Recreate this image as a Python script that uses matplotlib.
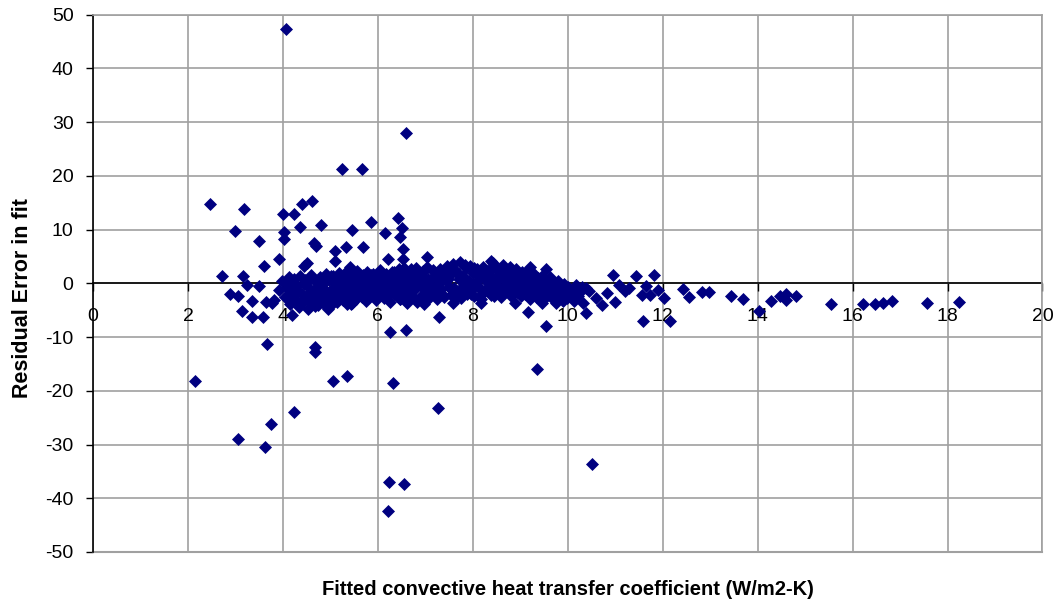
import numpy as np
import matplotlib
matplotlib.use("Agg")
import matplotlib.pyplot as plt

plt.rcParams["font.family"] = ["Liberation Sans", "DejaVu Sans"]
plt.rcParams["axes.unicode_minus"] = False

# dense band of residuals (fitted h, residual)
band_x = [3.92, 3.98, 4.05, 4.08, 4.12, 4.15, 4.18, 4.22, 4.26, 4.30, 4.33, 4.36, 4.40, 4.44, 4.47, 4.50,
          4.53, 4.56, 4.60, 4.63, 4.66, 4.70, 4.73, 4.76, 4.79, 4.82, 4.85, 4.88, 4.91, 4.94, 4.97, 5.00,
          5.03, 5.06, 5.09, 5.12, 5.15, 5.18, 5.21, 5.24, 5.27, 5.30, 5.33, 5.36, 5.39, 5.42, 5.45, 5.48,
          5.51, 5.54, 5.57, 5.60, 5.63, 5.66, 5.69, 5.72, 5.75, 5.78, 5.81, 5.84, 5.87, 5.90, 5.93, 5.96,
          5.99, 6.02, 6.05, 6.08, 6.11, 6.14, 6.17, 6.20, 6.23, 6.26, 6.29, 6.32, 6.35, 6.38, 6.41, 6.44,
          6.47, 6.50, 6.53, 6.56, 6.59, 6.62, 6.65, 6.68, 6.71, 6.74, 6.77, 6.80, 6.83, 6.86, 6.89, 6.92,
          6.95, 6.98, 7.01, 7.04, 7.07, 7.10, 7.13, 7.16, 7.19, 7.22, 7.25, 7.28, 7.31, 7.34, 7.37, 7.40,
          7.43, 7.46, 7.49, 7.52, 7.55, 7.58, 7.61, 7.64, 7.67, 7.70, 7.73, 7.76, 7.79, 7.82, 7.85, 7.88,
          7.91, 7.94, 7.97, 8.00, 8.03, 8.06, 8.09, 8.12, 8.15, 8.18, 8.21, 8.24, 8.27, 8.30, 8.33, 8.36,
          8.39, 8.42, 8.45, 8.48, 8.51, 8.54, 8.57, 8.60, 8.63, 8.66, 8.69, 8.72, 8.75, 8.78, 8.81, 8.84,
          8.87, 8.90, 8.93, 8.96, 8.99, 9.02, 9.05, 9.08, 9.11, 9.14, 9.17, 9.20, 9.23, 9.26, 9.29, 9.32,
          9.35, 9.38, 9.41, 9.44, 9.47, 9.50, 9.53, 9.56, 9.59, 9.62, 9.65, 9.68, 9.71, 9.74, 9.77, 9.80,
          9.83, 9.86, 9.89, 9.92, 9.95, 9.98, 10.01, 10.05, 10.09, 10.13, 10.18, 10.22, 10.27, 10.33, 10.38]
band_y = [-1.2, 0.4, -2.6, -0.8, 1.1, -3.9, -1.7, 0.2, -2.9, -0.5, -4.4, 1.3, -1.9, -3.3, 0.6, -2.4,
          -4.7, -0.9, 1.6, -3.1, -1.6, 0.3, -4.1, -2.2, 1.1, -0.4, -3.6, -1.3, 1.8, -2.7, 0.7, -4.3,
          -1.0, 1.4, -2.1, -0.2, -3.4, 2.0, -1.5, 0.5, -2.9, 1.2, -0.7, -3.8, 0.1, 1.9, -2.3, -1.1,
          0.9, -3.0, 2.3, -1.7, 0.0, -2.6, 1.5, -0.6, -3.3, 2.1, -1.3, 0.6, -2.2, 1.7, -0.3, -3.1,
          1.0, -1.8, 2.4, -0.9, 0.4, -2.7, 1.8, -1.4, 0.8, -3.4, 2.2, -0.1, -2.0, 1.3, -1.0, 2.6,
          -2.9, 0.5, -1.6, 2.8, -3.2, 1.1, -0.7, 2.0, -2.4, 0.2, -1.2, 2.9, -3.5, 1.5, -0.4, -2.1,
          2.3, 0.9, -1.5, 3.0, -2.8, 0.6, -0.8, 2.5, -1.9, 1.3, -3.0, 0.0, 2.7, -1.1, 1.8, -2.5,
          0.4, 3.2, -0.6, 1.6, -2.2, 3.6, -0.9, 2.2, -1.6, 0.8, 3.9, -2.7, 1.4, -0.3, 2.9, -1.9,
          0.5, 3.3, -1.2, 1.9, -2.4, 0.2, 2.6, -0.7, 1.1, -3.0, 3.0, -1.5, 0.7, 2.3, -0.9, 1.5,
          -2.1, 3.7, 0.3, -1.3, 2.4, -0.5, 1.2, -2.6, 3.4, 0.6, -1.4, 2.0, -0.2, 3.1, -2.0, 1.0,
          -0.8, 2.6, -1.7, 0.4, 1.6, -2.4, 0.9, -0.6, 1.9, -1.5, 0.2, -2.9, 1.3, -0.9, 0.6, -2.0,
          -0.3, 1.0, -1.6, -3.1, 0.3, -1.1, 0.7, -2.3, -0.4, 1.2, -1.8, -3.0, 0.1, -1.3, -2.6, 0.5,
          -0.9, -2.1, -3.3, -0.2, -1.6, -2.8, -0.7, -2.0, -1.2, -3.2, -0.4, -2.4, -1.5, -3.6, -0.8]

# more band points (fills the solid core)
core_x = [4.10, 4.16, 4.24, 4.31, 4.38, 4.45, 4.52, 4.58, 4.64, 4.71,
          4.78, 4.84, 4.90, 4.96, 5.02, 5.08, 5.14, 5.20, 5.26, 5.32,
          5.38, 5.44, 5.50, 5.56, 5.62, 5.68, 5.74, 5.80, 5.86, 5.92,
          5.98, 6.04, 6.10, 6.16, 6.22, 6.28, 6.34, 6.40, 6.46, 6.52,
          6.58, 6.64, 6.70, 6.76, 6.82, 6.88, 6.94, 7.00, 7.06, 7.12,
          7.18, 7.24, 7.30, 7.36, 7.42, 7.48, 7.54, 7.60, 7.66, 7.72,
          7.78, 7.84, 7.90, 7.96, 8.02, 8.08, 8.14, 8.20, 8.26, 8.32,
          8.38, 8.44, 8.50, 8.56, 8.62, 8.68, 8.74, 8.80, 8.86, 8.92,
          8.98, 9.04, 9.10, 9.16, 9.22, 9.28, 9.34, 9.40, 9.46, 9.52,
          9.58, 9.64, 9.70, 9.76, 9.82, 9.88]
core_y = [-0.2, -3.0, 0.9, -1.4, -3.7, -0.1, -2.0, 0.8, -3.9, -0.6,
          -2.6, 0.4, -1.8, -3.2, 1.3, -2.5, 0.8, -0.6, -3.1, 2.2,
          -1.9, 0.9, -2.8, -0.9, 1.2, -2.0, 0.3, -2.8, 1.6, -1.1,
          -2.4, 0.7, -0.4, 1.5, -2.2, -0.9, 2.1, -0.5, -3.0, 1.7,
          0.0, -2.1, 2.6, -0.3, 1.0, -2.7, 1.9, -0.7, 0.8, -2.0,
          2.2, -0.4, 1.1, -2.0, 2.0, 0.9, -1.1, 2.7, -2.6, 1.8,
          -0.8, 3.4, 0.1, -2.0, 2.9, -0.4, 1.6, -1.9, 2.0, 0.0,
          2.8, -2.4, 1.0, -1.8, 2.9, -0.9, 0.5, -2.3, 1.9, -0.2,
          -1.2, 2.2, -1.9, 0.7, -0.7, 1.8, -2.5, -1.0, 1.4, -2.0,
          -0.2, -2.4, -0.6, -2.1, -1.0, -2.5]

# scattered points above the band
upper_x = [4.06, 6.60, 5.25, 5.66, 2.47, 3.18, 4.00, 4.23, 4.40, 4.61, 5.86, 6.43, 6.50, 6.46,
           6.52, 6.54, 7.04, 3.00, 3.49, 3.61, 3.92, 4.02, 4.03, 4.36, 4.80, 4.65, 4.70, 4.44,
           4.51, 5.46, 6.15, 5.10, 5.32, 5.69, 5.10, 5.41, 6.22, 2.71, 3.17, 8.38, 9.21, 9.55]
upper_y = [47.3, 27.9, 21.3, 21.3, 14.8, 13.8, 13.0, 13.0, 14.8, 15.4, 11.5, 12.1, 10.3, 8.7,
           6.4, 4.6, 4.9, 9.8, 7.9, 3.3, 4.6, 9.5, 8.2, 10.5, 10.8, 7.5, 6.9, 3.3,
           3.8, 10.0, 9.3, 6.1, 6.7, 6.7, 4.2, 3.1, 4.5, 1.4, 1.4, 4.2, 3.0, 2.7]

# scattered points below the band
lower_x = [4.19, 4.67, 4.67, 6.26, 6.60, 7.28, 9.55, 9.17, 2.14, 3.05, 3.62, 3.75, 4.24, 3.67,
           5.05, 5.34, 6.32, 7.27, 6.23, 6.56, 6.21, 9.36, 10.52, 3.14, 3.35, 3.58, 3.35, 2.89,
           3.05, 3.25, 3.49, 3.65, 3.81, 3.77, 4.96, 4.68, 5.44, 6.58, 6.98, 7.58, 8.18, 8.88,
           9.45, 9.76, 5.46, 6.61]
lower_y = [-5.9, -11.9, -12.7, -9.0, -8.7, -6.2, -8.0, -5.4, -18.2, -29.0, -30.4, -26.2, -23.9, -11.3,
           -18.2, -17.3, -18.5, -23.2, -37.0, -37.3, -42.4, -15.9, -33.6, -5.1, -6.2, -6.2, -3.3, -2.0,
           -2.3, -0.3, -0.5, -3.5, -3.1, -3.6, -4.8, -4.3, -3.8, -3.1, -3.8, -3.7, -3.7, -3.6,
           -3.7, -3.7, -3.7, -3.7]

# sparse tail at high coefficients
tail_x = [10.39, 10.72, 11.00, 11.58, 12.16, 10.96, 11.44, 11.82, 12.42, 12.56, 12.82, 12.98, 13.43,
          13.70, 14.02, 14.28, 14.47, 14.59, 14.59, 14.80, 15.55, 16.21, 16.47, 16.65, 16.83, 17.56,
          18.25, 12.02, 11.30, 11.56, 11.74, 11.91, 11.07, 10.83, 10.60, 10.44, 10.30, 10.16, 11.20, 11.65]
tail_y = [-5.6, -4.0, -3.5, -7.0, -7.1, 1.6, 1.3, 1.5, -1.1, -2.6, -1.7, -1.7, -2.3,
          -2.9, -5.2, -3.3, -2.3, -2.0, -3.1, -2.3, -3.8, -3.8, -3.8, -3.6, -3.3, -3.7,
          -3.4, -2.7, -0.9, -2.1, -2.1, -1.2, -0.3, -1.8, -2.8, -1.5, -0.6, -2.5, -1.4, -0.5]

x_ticks = list(range(0, 21, 2))
y_ticks = list(range(-50, 51, 10))

fig = plt.figure(figsize=(10.58, 6.03), dpi=100)
ax = fig.add_axes([0.0879, 0.0846, 0.8974, 0.891])

xs = np.concatenate([band_x, core_x, upper_x, lower_x, tail_x])
ys = np.concatenate([band_y, core_y, upper_y, lower_y, tail_y])
ax.scatter(xs, ys, marker="D", s=44, color="#000080", linewidths=0, zorder=3)

ax.set_xlim(0, 20)
ax.set_ylim(-50, 50)
ax.set_xticks(x_ticks)
ax.set_yticks(y_ticks)

grid_c = "#a0a0a0"
ax.grid(True, color=grid_c, linewidth=1.2, zorder=0)
ax.set_axisbelow(True)
ax.axhline(-50, color=grid_c, linewidth=1.5, zorder=1, clip_on=False)

ax.spines["bottom"].set_position(("data", 0))
ax.spines["bottom"].set_color("black")
ax.spines["bottom"].set_linewidth(1.2)
ax.spines["bottom"].set_zorder(2)
ax.spines["left"].set_color("black")
ax.spines["left"].set_linewidth(1.2)
for side in ("top", "right"):
    ax.spines[side].set_color(grid_c)
    ax.spines[side].set_linewidth(1.2)

ax.tick_params(axis="x", direction="out", length=5.5, width=1.0, pad=12, labelsize=14)
ax.tick_params(axis="y", direction="out", length=5, width=1.0, pad=9, labelsize=14)

fig.text(0.5365, 0.023, "Fitted convective heat transfer coefficient (W/m2-K)",
         ha="center", va="center", fontsize=14.5, fontweight="bold")
fig.text(0.021, 0.506, "Residual Error in fit", rotation=90,
         ha="center", va="center", fontsize=15.5, fontweight="bold")

fig.savefig("out.png", dpi=100)
